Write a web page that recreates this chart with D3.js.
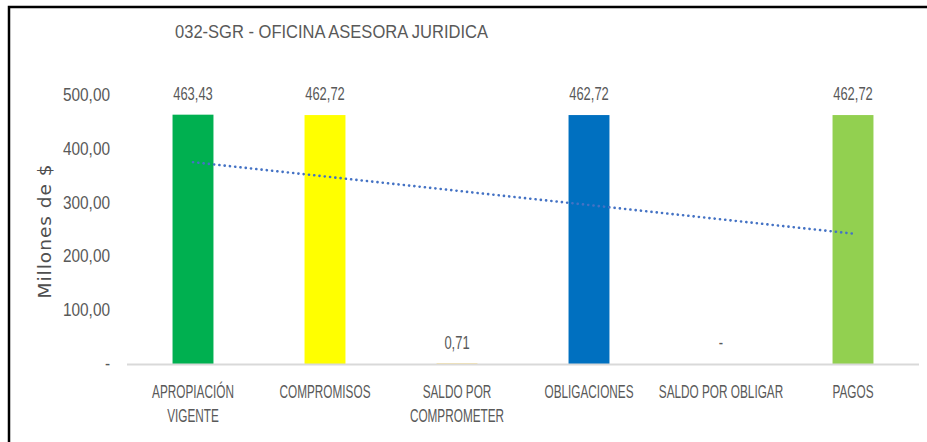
<!DOCTYPE html>
<html>
<head>
<meta charset="utf-8">
<script src="https://cdn.jsdelivr.net/npm/d3@7"></script>
<style>
  body { margin: 0; background: #fff; }
  svg { display: block; }
</style>
</head>
<body>
<svg width="927" height="442"></svg>
<script>
// data
var title = "032-SGR - OFICINA ASESORA JURIDICA";
var axisTitle = "Millones de $";
var categories = ["APROPIACIÓN VIGENTE", "COMPROMISOS", "SALDO POR COMPROMETER", "OBLIGACIONES", "SALDO POR OBLIGAR", "PAGOS"];
var values = [463.43, 462.72, 0.71, 462.72, 0, 462.72];
var barColors = ["#00B050", "#FFFF00", "#FFC000", "#0070C0", "#ED7D31", "#92D050"];
var tickValues = [0, 100, 200, 300, 400, 500];

var svg = d3.select("svg"),
    width = +svg.attr("width"),
    height = +svg.attr("height");

var textColor = "#595959";
var narrow = "'Liberation Sans', Arial, sans-serif";

var es = d3.formatLocale({decimal: ",", thousands: ".", grouping: [3], currency: ["$", ""]});
var fmt = es.format(",.2f");
function label(v) { return v === 0 ? "-" : fmt(v); }

var x = d3.scaleBand()
    .domain(categories)
    .range([127, 919])
    .padding(0);

var y = d3.scaleLinear()
    .domain([0, 500])
    .range([364, 95]);

var barW = x.bandwidth() * 0.31;

// frame (only top and left edges show in the picture)
svg.append("path")
    .attr("d", "M9," + (height + 5) + "V7H" + (width + 5))
    .attr("fill", "none")
    .attr("stroke", "#000")
    .attr("stroke-width", 2.5);

// title
svg.append("text")
    .attr("transform", "translate(175,38) scale(0.87,1)")
    .attr("font-family", narrow)
    .attr("font-size", 19)
    .attr("fill", textColor)
    .text(title);

// y axis labels
var yAxis = svg.append("g").attr("class", "y-axis");
yAxis.selectAll("text")
    .data(tickValues)
    .enter().append("text")
    .attr("transform", function(d) { return "translate(110," + (y(d) + 6) + ") scale(0.88,1)"; })
    .attr("text-anchor", "end")
    .attr("font-family", narrow)
    .attr("font-size", 17.5)
    .attr("fill", textColor)
    .text(function(d) { return d === 0 ? "-" : fmt(d); });

svg.append("text")
    .attr("transform", "translate(51,231) rotate(-90)")
    .attr("text-anchor", "middle")
    .attr("font-family", "'DejaVu Sans', sans-serif")
    .attr("font-size", 18.5)
    .attr("letter-spacing", 1)
    .attr("fill", "#4f4f4f")
    .text(axisTitle);

// bars
svg.append("g")
    .selectAll("rect")
    .data(values)
    .enter().append("rect")
    .attr("x", function(d, i) { return x(categories[i]) + (x.bandwidth() - barW) / 2; })
    .attr("y", function(d) { return y(d); })
    .attr("width", barW)
    .attr("height", function(d) { return y(0) - y(d); })
    .attr("fill", function(d, i) { return barColors[i]; });

// category axis line
svg.append("line")
    .attr("x1", x.range()[0])
    .attr("x2", x.range()[1])
    .attr("y1", y(0) + 0.5)
    .attr("y2", y(0) + 0.5)
    .attr("stroke", "#D9D9D9")
    .attr("stroke-width", 2);

// data labels
svg.append("g")
    .selectAll("text")
    .data(values)
    .enter().append("text")
    .attr("transform", function(d, i) {
        return "translate(" + (x(categories[i]) + x.bandwidth() / 2) + "," + (y(d) - 15) + ") scale(0.72,1)";
    })
    .attr("text-anchor", "middle")
    .attr("font-family", narrow)
    .attr("font-size", 18)
    .attr("fill", textColor)
    .text(label);

// linear trendline (least squares over category index)
var n = values.length;
var xs = d3.range(1, n + 1);
var mx = d3.mean(xs), my = d3.mean(values);
var slope = d3.sum(xs, function(v, i) { return (v - mx) * (values[i] - my); }) /
            d3.sum(xs, function(v) { return (v - mx) * (v - mx); });
var icpt = my - slope * mx;
var trend = xs.map(function(v, i) { return [x(categories[i]) + x.bandwidth() / 2, y(icpt + slope * v)]; });
svg.append("path")
    .attr("d", d3.line()([trend[0], trend[n - 1]]))
    .attr("fill", "none")
    .attr("stroke", "#4472C4")
    .attr("stroke-width", 2.6)
    .attr("stroke-linecap", "round")
    .attr("stroke-dasharray", "0.1,5.2");

// category labels, wrapped to the band width
var catSx = 0.655;
var catG = svg.append("g").attr("class", "x-axis");
categories.forEach(function(c) {
    var cx = x(c) + x.bandwidth() / 2;
    var t = catG.append("text")
        .attr("transform", "translate(" + cx + ",398) scale(" + catSx + ",1)")
        .attr("text-anchor", "middle")
        .attr("font-family", narrow)
        .attr("font-size", 18)
        .attr("fill", textColor);
    var words = c.split(" "), line = [], lines = [];
    var probe = t.append("tspan");
    words.forEach(function(w) {
        line.push(w);
        probe.text(line.join(" "));
        if (probe.node().getComputedTextLength() * catSx > x.bandwidth() && line.length > 1) {
            line.pop();
            lines.push(line.join(" "));
            line = [w];
        }
    });
    lines.push(line.join(" "));
    probe.remove();
    lines.forEach(function(l, k) {
        t.append("tspan").attr("x", 0).attr("y", k * 24).text(l);
    });
});
</script>
</body>
</html>
